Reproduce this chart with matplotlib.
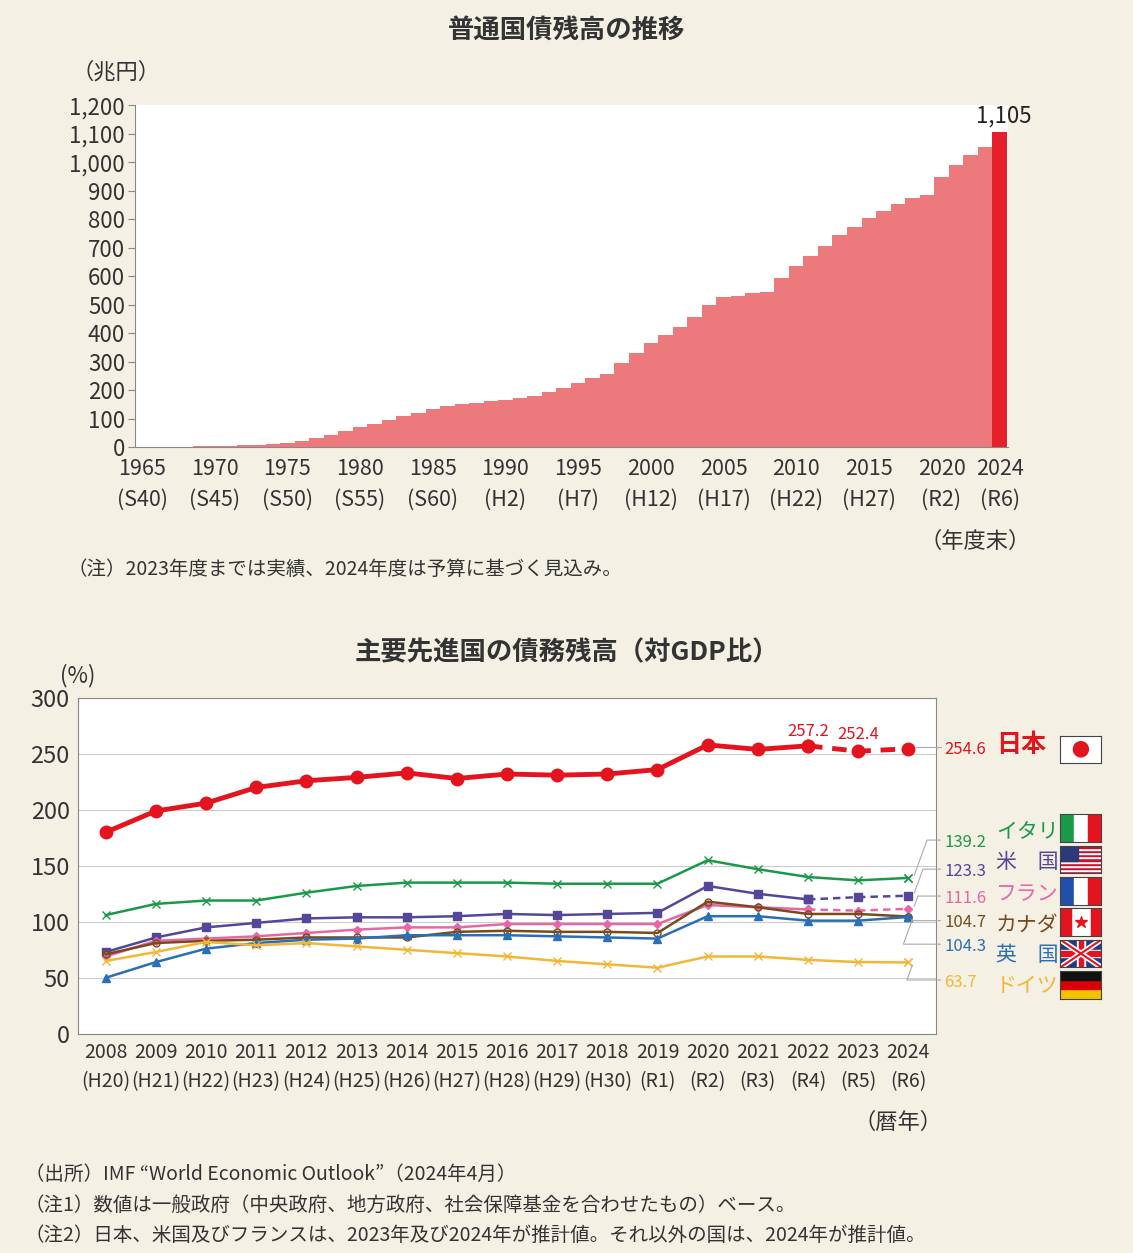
import numpy as np
import matplotlib.pyplot as plt
from matplotlib.patches import Rectangle, Circle

plt.rcParams['font.family'] = ['Noto Sans CJK JP', 'DejaVu Sans']

years = list(range(1965, 2025))
debt = [0.2, 0.9, 1.9, 2.8, 3.6, 4.1, 5.4, 7.2, 8.8, 10.4, 15.0, 22.1, 32.0, 42.6, 56.3,
        70.5, 82.3, 96.5, 109.7, 121.7, 134.4, 145.1, 151.8, 156.8, 160.9, 166.3, 171.6,
        178.4, 192.5, 206.6, 225.2, 244.7, 258.0, 295.2, 331.7, 367.6, 392.4, 421.1,
        456.9, 499.0, 526.9, 531.7, 541.5, 545.9, 594.0, 636.3, 669.9, 705.0, 743.9,
        774.1, 805.4, 830.6, 853.2, 874.0, 886.7, 946.6, 991.4, 1027.1, 1055.0, 1105.0]
top_ticks = [1965, 1970, 1975, 1980, 1985, 1990, 1995, 2000, 2005, 2010, 2015, 2020, 2024]
top_era = ['S40', 'S45', 'S50', 'S55', 'S60', 'H2', 'H7', 'H12', 'H17', 'H22', 'H27', 'R2', 'R6']

cal_years = [str(y) for y in range(2008, 2025)]
cal_era = ['H20', 'H21', 'H22', 'H23', 'H24', 'H25', 'H26', 'H27', 'H28', 'H29', 'H30',
           'R1', 'R2', 'R3', 'R4', 'R5', 'R6']
japan = [180, 199, 206, 220, 226, 229, 233, 228, 232, 231, 232, 236, 258, 254, 257.2, 252.4, 254.6]
italy = [106, 116, 119, 119, 126, 132, 135, 135, 135, 134, 134, 134, 155, 147, 140, 137, 139.2]
usa = [73, 86, 95, 99, 103, 104, 104, 105, 107, 106, 107, 108, 132, 125, 120, 122, 123.3]
france = [69, 83, 85, 87, 90, 93, 95, 95, 98, 98, 98, 98, 115, 113, 111, 110, 111.6]
canada = [71, 81, 83, 84, 86, 86, 86, 91, 92, 91, 91, 90, 118, 113, 107, 107, 104.7]
uk = [50, 64, 76, 81, 84, 85, 88, 88, 88, 87, 86, 85, 105, 105, 101, 101, 104.3]
germany = [65, 73, 82, 79, 81, 78, 75, 72, 69, 65, 62, 59, 69, 69, 66, 64, 63.7]

bg = '#f4f0e4'
fig = plt.figure(figsize=(11.33, 12.53), dpi=100, facecolor=bg)

# ---- top chart
ax = fig.add_axes([0.119, 0.643, 0.771, 0.273])
ax.bar(years[:-1], debt[:-1], width=1.0, color='#ec7a7c', linewidth=0)
ax.bar(years[-1], debt[-1], width=1.0, color='#e5202a', linewidth=0)
ax.set_xlim(1964.5, 2024.6)
ax.set_ylim(0, 1200)
ax.set_yticks(range(0, 1201, 100))
ax.set_yticklabels([f'{v:,}' for v in range(0, 1201, 100)], fontsize=16, color='#333')
ax.set_xticks(top_ticks)
ax.set_xticklabels([f'{y}\n({e})' for y, e in zip(top_ticks, top_era)], fontsize=15.5,
                   color='#333', linespacing=1.5)
for s in ['top', 'right']:
    ax.spines[s].set_visible(False)
ax.spines['left'].set_color('#888')
ax.spines['bottom'].set_color('#888')
ax.tick_params(axis='y', length=5, color='#888', pad=2)
ax.tick_params(axis='x', length=0, pad=8)
ax.text(years[-1] + 0.3, debt[-1] + 15, f'{int(debt[-1]):,}', ha='center', va='bottom',
        fontsize=16, color='#222')
fig.text(0.5, 0.97, '普通国債残高の推移', ha='center', fontsize=19, weight='bold', color='#333')
fig.text(0.063, 0.937, '（兆円）', fontsize=16, color='#333')
fig.text(0.91, 0.563, '（年度末）', ha='right', fontsize=16, color='#333')
fig.text(0.06, 0.541, '（注）2023年度までは実績、2024年度は予算に基づく見込み。', fontsize=14, color='#333')

# ---- bottom chart
ax2 = fig.add_axes([0.069, 0.175, 0.757, 0.268])
x = np.arange(len(cal_years))
series = [
    (japan, '#e3141e', 'o', 9, 3.5, 14, '日本', '254.6'),
    (italy, '#1a9a48', 'x', 6, 1.8, 16, 'イタリア', '139.2'),
    (usa, '#54479a', 's', 6, 1.8, 14, '米　国', '123.3'),
    (france, '#e667a5', 'D', 4, 1.8, 14, 'フランス', '111.6'),
    (canada, '#7a4a1c', 'o', 5, 1.8, 16, 'カナダ', '104.7'),
    (uk, '#2a6fb5', '^', 6, 1.8, 16, '英　国', '104.3'),
    (germany, '#f2b734', 'x', 6, 1.8, 16, 'ドイツ', '63.7'),
]
for vals, c, m, ms, lw, split, name, lab in series:
    mfc = 'none' if (name == 'カナダ') else c
    ax2.plot(x[:split + 1], vals[:split + 1], color=c, lw=lw, marker=m, ms=ms, mfc=mfc,
             mec=c, zorder=3)
    ax2.plot(x[split:], vals[split:], color=c, lw=lw, ls=(0, (3, 2)), marker=m, ms=ms,
             mfc=mfc, mec=c, zorder=3)
ax2.set_xlim(-0.55, 16.55)
ax2.set_ylim(0, 300)
ax2.set_yticks(range(0, 301, 50))
ax2.set_yticklabels(range(0, 301, 50), fontsize=17, color='#333')
ax2.grid(axis='y', color='#cccccc', lw=0.8)
ax2.set_axisbelow(True)
ax2.set_xticks(x)
ax2.set_xticklabels([f'{y}\n({e})' for y, e in zip(cal_years, cal_era)], fontsize=14,
                    color='#333', linespacing=1.5)
ax2.tick_params(length=0, pad=6)
for s in ax2.spines.values():
    s.set_color('#888')
ax2.text(14, 262, '257.2', ha='center', va='bottom', fontsize=12, color='#e3141e')
ax2.text(15, 260, '252.4', ha='center', va='bottom', fontsize=12, color='#e3141e')

# right-side labels
lab_y = {'日本': 258, 'イタリア': 180, '米　国': 153, 'フランス': 125, 'カナダ': 97,
         '英　国': 70, 'ドイツ': 43}
lab_num_y = {'日本': 258, 'イタリア': 175, '米　国': 149, 'フランス': 125, 'カナダ': 103,
             '英　国': 82, 'ドイツ': 50}
for vals, c, m, ms, lw, split, name, lab in series:
    ax2.annotate('', xy=(16.1, vals[-1]), xytext=(16.7, lab_num_y[name] - 2),
                 arrowprops=dict(arrowstyle='-', color='#aaa', lw=0.8,
                                 connectionstyle='angle,angleA=0,angleB=70,rad=0'),
                 annotation_clip=False)
    ax2.text(16.72, lab_num_y[name] - 4, lab, fontsize=12, color=c, va='center')
    ax2.text(17.75, lab_y[name], name, fontsize=15 if name != '日本' else 18, color=c,
             va='center', weight='bold' if name == '日本' else 'normal')

# flags
fy = {'日本': 0.391, 'イタリア': 0.328, '米　国': 0.303, 'フランス': 0.278, 'カナダ': 0.253,
      '英　国': 0.228, 'ドイツ': 0.203}
for name, yc in fy.items():
    f = fig.add_axes([0.936, yc, 0.036, 0.022])
    f.set_xlim(0, 3); f.set_ylim(0, 2); f.set_xticks([]); f.set_yticks([])
    for s in f.spines.values():
        s.set_color('#444')
    if name == '日本':
        f.add_patch(Rectangle((0, 0), 3, 2, color='white'))
        f.add_patch(Circle((1.5, 1), 0.55, color='#e3141e'))
    elif name in ('イタリア', 'フランス'):
        cols = ['#1a9a48', 'white', '#e3141e'] if name == 'イタリア' else ['#1f4fa8', 'white', '#e3141e']
        for i, cc in enumerate(cols):
            f.add_patch(Rectangle((i, 0), 1, 2, color=cc))
    elif name == '米　国':
        for i in range(13):
            f.add_patch(Rectangle((0, i * 2 / 13), 3, 2 / 13, color='#c8102e' if i % 2 == 0 else 'white'))
        f.add_patch(Rectangle((0, 2 * 6 / 13), 1.3, 2 * 7 / 13, color='#2a3a7a'))
    elif name == 'カナダ':
        f.add_patch(Rectangle((0, 0), 3, 2, color='white'))
        f.add_patch(Rectangle((0, 0), 0.75, 2, color='#e3141e'))
        f.add_patch(Rectangle((2.25, 0), 0.75, 2, color='#e3141e'))
        f.plot([1.5], [1], marker='*', ms=9, color='#e3141e')
    elif name == '英　国':
        f.add_patch(Rectangle((0, 0), 3, 2, color='#1f3a8a'))
        f.plot([0, 3], [0, 2], color='white', lw=4); f.plot([0, 3], [2, 0], color='white', lw=4)
        f.plot([0, 3], [0, 2], color='#e3141e', lw=1.5); f.plot([0, 3], [2, 0], color='#e3141e', lw=1.5)
        f.add_patch(Rectangle((1.2, 0), 0.6, 2, color='white'))
        f.add_patch(Rectangle((0, 0.75), 3, 0.5, color='white'))
        f.add_patch(Rectangle((1.35, 0), 0.3, 2, color='#e3141e'))
        f.add_patch(Rectangle((0, 0.85), 3, 0.3, color='#e3141e'))
    elif name == 'ドイツ':
        for i, cc in enumerate(['#f2c300', '#dd0000', '#111111']):
            f.add_patch(Rectangle((0, i * 2 / 3), 3, 2 / 3, color=cc))

fig.text(0.5, 0.473, '主要先進国の債務残高（対GDP比）', ha='center', fontsize=19, weight='bold', color='#333')
fig.text(0.053, 0.455, '(%)', fontsize=16, color='#333')
fig.text(0.832, 0.099, '（暦年）', ha='right', fontsize=16, color='#333')
fig.text(0.022, 0.058, '（出所）IMF “World Economic Outlook”（2024年4月）', fontsize=14, color='#333')
fig.text(0.022, 0.034, '（注1）数値は一般政府（中央政府、地方政府、社会保障基金を合わせたもの）ベース。', fontsize=14, color='#333')
fig.text(0.022, 0.010, '（注2）日本、米国及びフランスは、2023年及び2024年が推計値。それ以外の国は、2024年が推計値。', fontsize=14, color='#333')

fig.savefig('out.png', dpi=100, facecolor=bg)
